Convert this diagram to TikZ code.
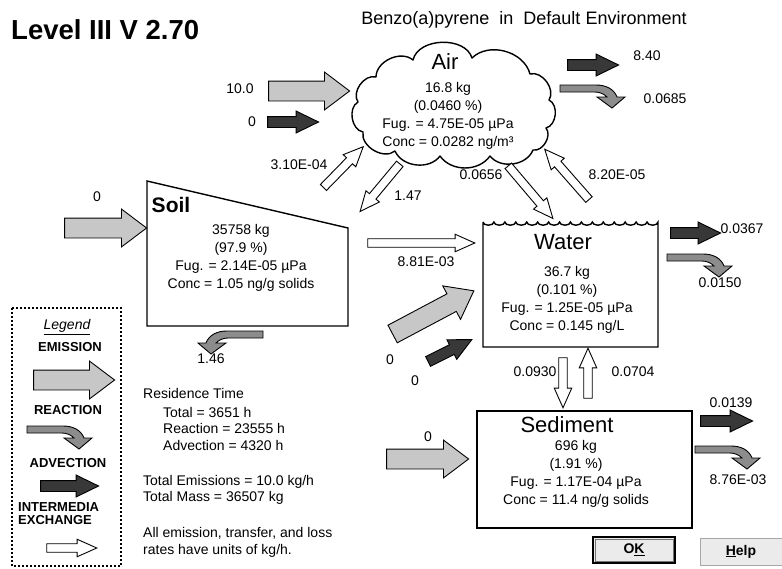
\documentclass[tikz,border=0pt]{standalone}
\usepackage{fontspec}
\setmainfont{Liberation Sans}
\usetikzlibrary{shapes.arrows}
\tikzset{
  lbl/.style={font=\fontsize{14}{16}\selectfont, inner sep=0pt},
  leglbl/.style={font=\bfseries\fontsize{13}{14}\selectfont, inner sep=0pt},
  boxtxt/.style={font=\fontsize{14}{18}\selectfont, align=center, inner sep=0pt},
  boxttl/.style={font=\fontsize{22}{24}\selectfont, inner sep=0pt},
  outline/.style={draw=black, line width=1.4pt},
  puff/.style={bend left=#1},
  emis/.style={single arrow, draw=black, line width=0.9pt, fill=black!22, inner xsep=0pt, inner ysep=9.5pt, single arrow head extend=9pt, single arrow tip angle=74, minimum height=#1},
  advc/.style={single arrow, draw=black, line width=0.9pt, fill=black!78, inner xsep=0pt, inner ysep=5pt, single arrow head extend=5.5pt, single arrow tip angle=52, minimum height=#1},
  inter/.style={single arrow, draw=black, line width=0.9pt, fill=white, inner xsep=0pt, inner ysep=3.8pt, single arrow head extend=4.5pt, single arrow tip angle=48, minimum height=#1},
  reactarrow/.pic={\draw[black, line width=0.9pt, fill=black!45] (0,0) -- (36,0) .. controls (46,0) and (54,4) .. (57,12) -- (65,12) -- (52,23) -- (37,12) -- (47,12) .. controls (44,9) and (40,7) .. (35,7) -- (0,7) -- cycle;},
  btn/.style={fill=black!8, minimum width=82pt, inner sep=0pt, font=\bfseries\fontsize{14}{16}\selectfont},
}
\begin{document}
\begin{tikzpicture}[x=1pt,y=-1pt]
\useasboundingbox[fill=white] (0,0) rectangle (782,568);

% titles
\node[font=\bfseries\fontsize{27.5}{29}\selectfont, anchor=west, inner sep=0pt] (title) at (11,30) {Level III V 2.70};
\node[font=\fontsize{18}{20}\selectfont, inner sep=0pt] (subtitle) at (524,20) {Benzo(a)pyrene\ \ in\ \ Default Environment};

% air cloud
\coordinate (air) at (454,99);
\draw[outline, line join=round] (413,60) to[puff=75] (472,58) to[puff=60] (530,74) to[puff=70] (549,100)
  to[puff=70] (546,128) to[puff=70] (533,150) to[puff=60] (490,156) to[puff=55] (440,156)
  to[puff=60] (395,151) to[puff=70] (363,132) to[puff=70] (358,102) to[puff=70] (376,77)
  to[puff=65] cycle;
\node[boxttl] (airttl) at (445,62) {Air};
\node[boxtxt] (airtxt) at (448,116) {16.8 kg\\(0.0460 \%)\\Fug. = 4.75E-05 µPa\\Conc = 0.0282 ng/m³};

% soil
\draw[outline] (147,181) -- (348,228) -- (348,326) -- (147,326) -- cycle;
\node[boxttl, font=\bfseries\fontsize{21}{23}\selectfont] (soilttl) at (171,205) {Soil};
\node[boxtxt] (soiltxt) at (241,258) {35758 kg\\(97.9 \%)\\Fug. = 2.14E-05 µPa\\Conc = 1.05 ng/g solids};

% water
\draw[outline] (483,222) -- (483,347) -- (658,347) -- (658,222)
  \foreach \i in {0,...,15} { arc[start angle=0, end angle=180, x radius=5.47, y radius=3.2] };
\node[boxttl] (waterttl) at (563,242) {Water};
\node[boxtxt] (watertxt) at (567,300) {36.7 kg\\(0.101 \%)\\Fug. = 1.25E-05 µPa\\Conc = 0.145 ng/L};

% sediment
\node[outline, minimum width=215pt, minimum height=117pt, inner sep=0pt] (sed) at (584.5,469.5) {};
\node[boxttl] (sedttl) at (567,425) {Sediment};
\node[boxtxt] (sedtxt) at (576,474) {696 kg\\(1.91 \%)\\Fug. = 1.17E-04 µPa\\Conc = 11.4 ng/g solids};

% emission arrows
\node[emis=81pt] (emAir) at (302.5,91) {};
\node[emis=82pt] (emSoil) at (99,228) {};
\node[emis=92pt, rotate=28] (emWater) at (427.4,315.5) {};
\node[emis=82pt] (emSed) at (421,459) {};
\node[emis=81pt] (emLeg) at (67.5,380) {};

% advection arrows
\node[advc=51pt] (adAirIn) at (287.5,122) {};
\node[advc=51pt] (adAirOut) at (587.5,65) {};
\node[advc=49pt, rotate=26.6] (adWaterIn) at (445,353) {};
\node[advc=50pt] (adWaterOut) at (690,233) {};
\node[advc=52pt] (adSedOut) at (721,421) {};
\node[advc=58pt] (adLeg) at (64,486) {};

% intermedia exchange arrows
\node[inter=57pt, rotate=45.7] (xSoilAir) at (340,170.5) {};
\node[inter=62pt, rotate=230.2] (xAirSoil) at (383,184) {};
\node[inter=69pt, rotate=-49.7] (xAirWater) at (527.5,188.5) {};
\node[inter=67pt, rotate=131.3] (xWaterAir) at (570,178) {};
\node[inter=107pt] (xSoilWater) at (416.5,243) {};
\node[inter=50pt, rotate=-90] (xWaterSed) at (563,378) {};
\node[inter=50pt, rotate=90] (xSedWater) at (588,378) {};
\node[inter=50pt] (xLeg) at (67,548) {};

% reaction arrows
\pic (rAir) at (560,85) {reactarrow};
\pic[xscale=-1] (rSoil) at (263,331) {reactarrow};
\pic (rWater) at (667,254) {reactarrow};
\pic (rSed) at (695,446) {reactarrow};
\pic (rLeg) at (27,426) {reactarrow};

% flow labels
\node[lbl] (l1) at (240,89) {10.0};
\node[lbl] (l2) at (252,122) {0};
\node[lbl] (l3) at (647,56) {8.40};
\node[lbl] (l4) at (665,99) {0.0685};
\node[lbl] (l5) at (299,165) {3.10E-04};
\node[lbl] (l6) at (408,196) {1.47};
\node[lbl] (l7) at (481,175) {0.0656};
\node[lbl] (l8) at (617,175) {8.20E-05};
\node[lbl] (l9) at (97,197) {0};
\node[lbl] (l10) at (426,262) {8.81E-03};
\node[lbl] (l11) at (211,359) {1.46};
\node[lbl] (l12) at (390,360) {0};
\node[lbl] (l13) at (415,381) {0};
\node[lbl] (l14) at (742,229) {0.0367};
\node[lbl] (l15) at (720,283) {0.0150};
\node[lbl] (l16) at (535,372) {0.0930};
\node[lbl] (l17) at (633,372) {0.0704};
\node[lbl] (l18) at (731,403) {0.0139};
\node[lbl] (l19) at (738,480) {8.76E-03};
\node[lbl] (l20) at (428,437) {0};

% legend
\draw[line width=1.2pt, dash pattern=on 2pt off 2pt] (12,308) rectangle (121,566);
\node[lbl] (legttl) at (67,327) {\textit{\underline{Legend}}};
\node[leglbl] (legE) at (70,347) {EMISSION};
\node[leglbl] (legR) at (68,410) {REACTION};
\node[leglbl] (legA) at (68,463) {ADVECTION};
\node[leglbl, anchor=west, align=left, font=\bfseries\fontsize{13}{13}\selectfont] (legX) at (18,514) {INTERMEDIA\\EXCHANGE};

% summary text
\node[lbl, anchor=west] (t1) at (143,393) {Residence Time};
\node[lbl, anchor=west] (t2) at (163,412) {Total = 3651 h};
\node[lbl, anchor=west] (t3) at (163,428) {Reaction = 23555 h};
\node[lbl, anchor=west] (t4) at (163,445) {Advection = 4320 h};
\node[lbl, anchor=west] (t5) at (143,482) {Total Emissions = 10.0 kg/h};
\node[lbl, anchor=west] (t6) at (143,498) {Total Mass = 36507 kg};
\node[lbl, anchor=west] (t7) at (143,533) {All emission, transfer, and loss};
\node[lbl, anchor=west] (t8) at (143,551) {rates have units of kg/h.};

% buttons
\node[btn, draw=black, line width=2pt, minimum height=26pt] (ok) at (634,550) {O\underline{K}};
\draw[black!55, line width=0.8pt] ([shift={(3,3)}]ok.north west) rectangle ([shift={(-3,-3)}]ok.south east);
\node[btn, draw=black!35, line width=1pt, minimum height=27pt] (help) at (741,551.5) {\underline{H}elp};
\end{tikzpicture}
\end{document}
